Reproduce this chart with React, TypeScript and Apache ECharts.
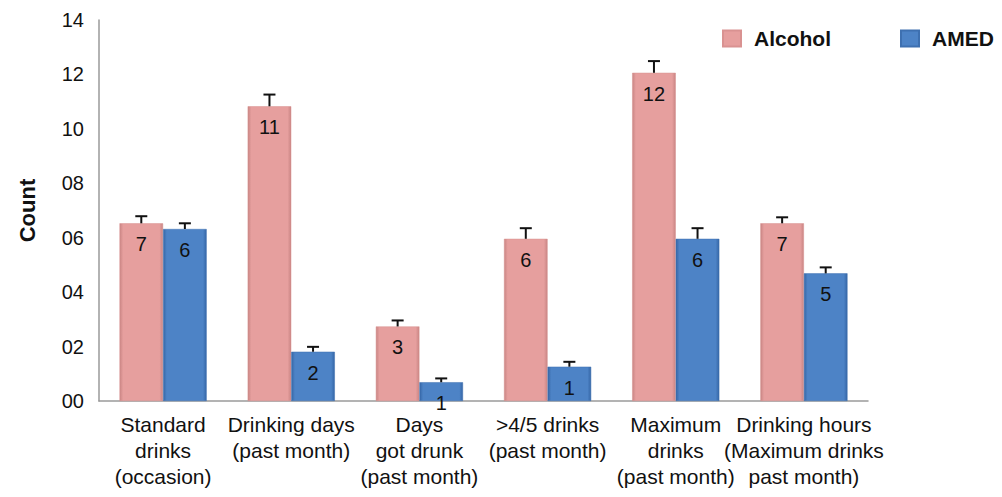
import React, { useEffect, useRef } from "react";
import * as echarts from "echarts";

const categories = [
  "Standard\ndrinks\n(occasion)",
  "Drinking days\n(past month)",
  "Days\ngot drunk\n(past month)",
  ">4/5 drinks\n(past month)",
  "Maximum\ndrinks\n(past month)",
  "Drinking hours\n(Maximum drinks\npast month)",
];
const alcoholValues = [6.53, 10.83, 2.74, 5.96, 12.06, 6.53];
const alcoholErrTop = [6.79, 11.26, 2.96, 6.35, 12.49, 6.75];
const amedValues = [6.32, 1.81, 0.69, 1.26, 5.96, 4.69];
const amedErrTop = [6.53, 1.99, 0.83, 1.44, 6.35, 4.91];
const yTicks = ["00", "02", "04", "06", "08", "10", "12", "14"];

const FONT = "Liberation Sans, Arial, sans-serif";
const CAT_GAP = 0.32;

function errorSeries(name: string, tops: number[], vals: number[], side: number) {
  return {
    type: "custom",
    name: name + " err",
    z: 5,
    silent: true,
    data: tops.map((t, i) => [i, vals[i], t]),
    renderItem: (params: any, api: any) => {
      const idx = api.value(0);
      const base = api.coord([idx, api.value(1)]);
      const top = api.coord([idx, api.value(2)]);
      const band = api.size([1, 0])[0];
      const barW = (band * (1 - CAT_GAP)) / 2;
      const x = base[0] + side * (barW / 2);
      const cap = 6;
      const st = { stroke: "#111", lineWidth: 2 };
      return {
        type: "group",
        children: [
          { type: "line", shape: { x1: x, y1: base[1], x2: x, y2: top[1] }, style: st },
          { type: "line", shape: { x1: x - cap, y1: top[1], x2: x + cap, y2: top[1] }, style: st },
        ],
      };
    },
  };
}

function barGrad(edge: string, mid: string) {
  return new echarts.graphic.LinearGradient(0, 0, 1, 0, [
    { offset: 0, color: edge },
    { offset: 0.08, color: mid },
    { offset: 0.92, color: mid },
    { offset: 1, color: edge },
  ]);
}

const legendBase = {
  top: 16,
  itemWidth: 18,
  itemHeight: 16,
  icon: "rect",
  padding: 0,
  textStyle: {
    fontSize: 21,
    fontWeight: "bold",
    color: "#111",
    fontFamily: FONT,
    padding: [0, 0, 0, 8],
  },
};

export default function App() {
  const ref = useRef<HTMLDivElement>(null);
  useEffect(() => {
    if (!ref.current) return;
    const chart = echarts.init(ref.current, undefined, { renderer: "svg" });
    const labelCfg = {
      show: true,
      position: "insideTop",
      distance: 11,
      color: "#111",
      fontSize: 20,
      fontFamily: FONT,
      formatter: (p: any) => String(Math.round(p.value)),
    };
    chart.setOption({
      animation: false,
      backgroundColor: "#ffffff",
      textStyle: { fontFamily: FONT },
      grid: { left: 88, top: 12, right: 134, bottom: 81, containLabel: false },
      legend: [
        { ...legendBase, data: ["Alcohol"], left: 714, top: 20 },
        { ...legendBase, data: ["AMED"], left: 892, top: 20 },
      ],
      xAxis: {
        type: "category",
        data: categories,
        axisLine: { lineStyle: { color: "#9a9a9a", width: 1.5 } },
        axisTick: { show: false },
        axisLabel: {
          interval: 0,
          color: "#111",
          fontSize: 21,
          lineHeight: 26,
          margin: 10,
          fontFamily: FONT,
        },
      },
      yAxis: {
        type: "value",
        min: 0,
        max: 14,
        interval: 2,
        name: "Count",
        nameLocation: "middle",
        nameGap: 61,
        nameTextStyle: { fontSize: 22, fontWeight: "bold", color: "#111", fontFamily: FONT },
        axisLine: { show: true, lineStyle: { color: "#9a9a9a", width: 1.5 } },
        axisTick: { show: false },
        splitLine: { show: false },
        axisLabel: {
          color: "#111",
          fontSize: 20,
          margin: 15,
          fontFamily: FONT,
          formatter: (v: number) => yTicks[Math.round(v / 2)] ?? String(v),
        },
      },
      series: [
        {
          type: "bar",
          name: "Alcohol",
          data: alcoholValues,
          barGap: "0%",
          barCategoryGap: "32%",
          itemStyle: { color: barGrad("#c98584", "#e69f9e"), borderColor: "#d99291", borderWidth: 0.5 },
          label: labelCfg,
        },
        {
          type: "bar",
          name: "AMED",
          data: amedValues,
          barGap: "0%",
          barCategoryGap: "32%",
          itemStyle: { color: barGrad("#3566a6", "#4d83c6"), borderColor: "#3e70b0", borderWidth: 0.5 },
          label: labelCfg,
        },
        errorSeries("Alcohol", alcoholErrTop, alcoholValues, -1),
        errorSeries("AMED", amedErrTop, amedValues, 1),
      ],
    });
    return () => chart.dispose();
  }, []);
  return <div ref={ref} style={{ width: 994, height: 481 }} />;
}
